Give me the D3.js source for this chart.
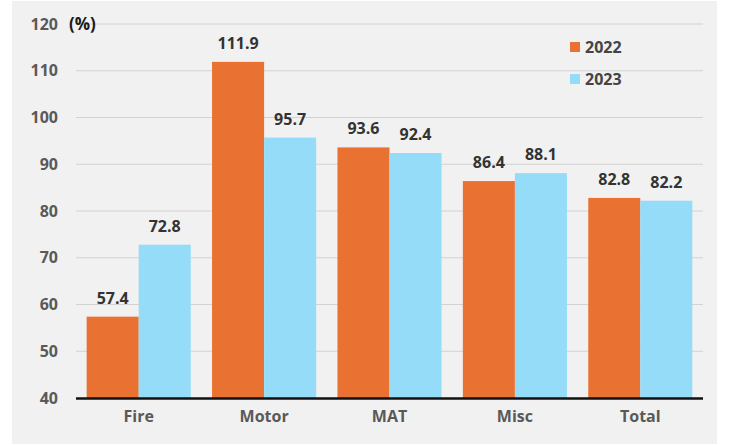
<!DOCTYPE html>
<html>
<head>
<meta charset="utf-8">
<script src="https://cdn.jsdelivr.net/npm/d3@7"></script>
<style>
  html, body { margin: 0; padding: 0; background: #ffffff; }
  svg { display: block; }
  text { font-family: "Open Sans", "DejaVu Sans", sans-serif; font-weight: 700; }
</style>
</head>
<body>
<svg id="chart" width="729" height="445"></svg>
<script>
// Loss ratio by line of business
const categories = ["Fire", "Motor", "MAT", "Misc", "Total"];
const series = ["2022", "2023"];
const values2022 = [57.4, 111.9, 93.6, 86.4, 82.8];
const values2023 = [72.8, 95.7, 92.4, 88.1, 82.2];
const yTicks = [40, 50, 60, 70, 80, 90, 100, 110, 120];
const colors = ["#E97132", "#94DCF8"];

const svg = d3.select("#chart");
const W = 729, H = 445;
const FS = 16;

// panel background
svg.append("rect").attr("x", 12).attr("y", 1).attr("width", 705).attr("height", 443)
  .attr("fill", "#f1f1f1");

const margin = { left: 76, right: 26, top: 24, bottom: 47 };
const x0 = d3.scaleBand().domain(categories).range([margin.left, W - margin.right])
  .paddingInner(0.17).paddingOuter(0.085);
const x1 = d3.scaleBand().domain(series).range([0, x0.bandwidth()]);
const y = d3.scaleLinear().domain([40, 120]).range([H - margin.bottom, margin.top]);

// gridlines
svg.append("g").selectAll("line").data(yTicks.slice(1)).join("line")
  .attr("x1", margin.left).attr("x2", W - margin.right)
  .attr("y1", d => y(d)).attr("y2", d => y(d))
  .attr("stroke", "#d2d2d2").attr("stroke-width", 1);

// y axis labels
const yAxis = d3.axisLeft(y).tickValues(yTicks).tickSize(0).tickPadding(18);
const gy = svg.append("g").attr("transform", `translate(${margin.left},0)`).call(yAxis);
gy.select(".domain").remove();
gy.selectAll("text").attr("font-size", FS).attr("fill", "#595959")
  .style("font-family", "'Open Sans', sans-serif").style("font-weight", 700);

svg.append("text").attr("x", 69).attr("y", y(120)).attr("dy", "0.35em")
  .attr("font-size", 17).attr("fill", "#1a1a1a").text("(%)");

// bars
const rows = categories.map((c, i) => ({ cat: c, vals: [values2022[i], values2023[i]] }));
const groups = svg.append("g").selectAll("g").data(rows).join("g")
  .attr("transform", d => `translate(${x0(d.cat)},0)`);

groups.selectAll("rect").data(d => d.vals.map((v, j) => ({ key: series[j], v, j }))).join("rect")
  .attr("x", d => x1(d.key)).attr("width", x1.bandwidth())
  .attr("y", d => y(d.v)).attr("height", d => y(40) - y(d.v))
  .attr("fill", d => colors[d.j]);

groups.selectAll("text.val").data(d => d.vals.map((v, j) => ({ key: series[j], v, j }))).join("text")
  .attr("class", "val")
  .attr("x", d => x1(d.key) + x1.bandwidth() / 2).attr("y", d => y(d.v) - 13)
  .attr("text-anchor", "middle").attr("font-size", FS).attr("fill", "#333")
  .text(d => d.v.toFixed(1));

// baseline
svg.append("line").attr("x1", margin.left).attr("x2", W - margin.right)
  .attr("y1", y(40) + 0.5).attr("y2", y(40) + 0.5)
  .attr("stroke", "#111").attr("stroke-width", 2.5);

// x axis labels
const xAxis = d3.axisBottom(x0).tickSize(0).tickPadding(13);
const gx = svg.append("g").attr("transform", `translate(0,${y(40)})`).call(xAxis);
gx.select(".domain").remove();
gx.selectAll("text").attr("font-size", FS).attr("fill", "#595959")
  .style("font-family", "'Open Sans', sans-serif").style("font-weight", 700);

// legend
const legend = svg.append("g").selectAll("g").data(series).join("g")
  .attr("transform", (d, i) => `translate(570,${47 + i * 32})`);
legend.append("rect").attr("x", 0).attr("y", -5).attr("width", 10).attr("height", 10)
  .attr("fill", (d, i) => colors[i]);
legend.append("text").attr("x", 15).attr("dy", "0.35em").attr("font-size", FS)
  .attr("fill", "#444").text(d => d);
</script>
</body>
</html>
